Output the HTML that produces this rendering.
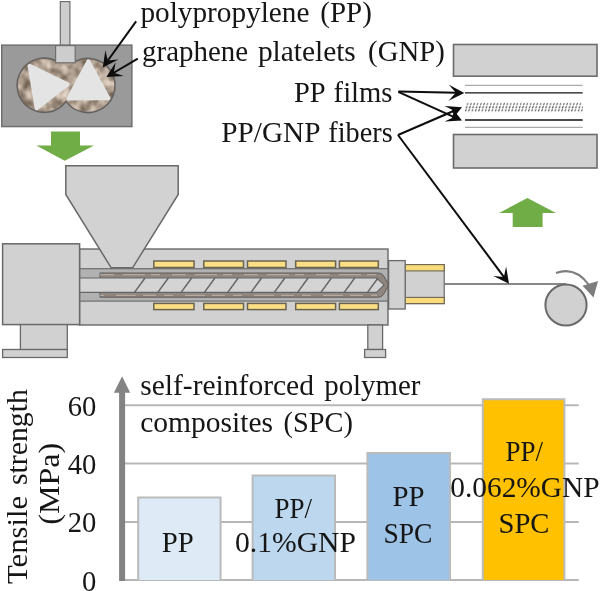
<!DOCTYPE html>
<html><head><meta charset="utf-8">
<style>
html,body{margin:0;padding:0;background:#fff;}
svg{display:block;}
text{font-family:"Liberation Serif",serif;fill:#141414;}
</style></head><body>
<svg width="600" height="591" viewBox="0 0 600 591">
<defs>
  <filter id="soft" x="-5%" y="-5%" width="110%" height="110%"><feGaussianBlur stdDeviation="0.38"/></filter>
  <filter id="softt" x="-5%" y="-5%" width="110%" height="110%"><feGaussianBlur stdDeviation="0.3"/></filter>
  <pattern id="dots" x="465" y="102.4" width="3.32" height="9.8" patternUnits="userSpaceOnUse">
    <g stroke="#3a3a3a" stroke-width="1.05" stroke-linecap="round">
    <line x1="2.2" y1="2.2" x2="3.0" y2="1.1"/>
    <line x1="1.1" y1="5.45" x2="1.9" y2="4.35"/>
    <line x1="0.3" y1="8.6" x2="1.1" y2="7.5"/>
    </g>
  </pattern>
  <clipPath id="chamber"><circle cx="44.1" cy="85.1" r="27.1"/><circle cx="87.8" cy="85.6" r="27.1"/><rect x="57" y="58" width="17.5" height="14"/></clipPath>
  <filter id="noise" x="0" y="0" width="100%" height="100%" color-interpolation-filters="sRGB">
    <feTurbulence type="fractalNoise" baseFrequency="0.1" numOctaves="2" seed="11" result="n"/>
    <feColorMatrix type="matrix" values="0.7 0 0 0 0.33  0.7 0 0 0 0.27  0.7 0 0 0 0.21  0 0 0 0 1"/>
  </filter>
  <linearGradient id="melt" x1="0" y1="0" x2="0" y2="1">
    <stop offset="0" stop-color="#6b625d"/><stop offset="0.45" stop-color="#b9aea6"/><stop offset="1" stop-color="#6b625d"/>
  </linearGradient>
</defs>
<rect width="600" height="591" fill="#fff"/>
<g filter="url(#soft)">
<!-- ===== mixer ===== -->
<rect x="60.3" y="1.6" width="9.6" height="44" fill="#cdcdcd" stroke="#6e6e6e" stroke-width="1.2"/>
<rect x="1.7" y="45.1" width="130.2" height="81.5" fill="#9a9a9a" stroke="#6c6c6c" stroke-width="1.4"/>
<g>
  <g clip-path="url(#chamber)">
    <rect x="10" y="50" width="115" height="70" filter="url(#noise)"/>
  </g>
  <path d="M58.5,62.2 A27.1,27.1 0 1 0 66.0,101.4 A27.1,27.1 0 1 0 73,62.9" fill="none" stroke="#666260" stroke-width="1.6"/>
</g>
<rect x="55.6" y="45.6" width="19.6" height="17.2" fill="#cdcdcd" stroke="#6e6e6e" stroke-width="1.2"/>
<path d="M29.6,65.9 L67.6,84.4 L36.6,108.2 Z" fill="#e4e4e4" stroke="#e4e4e4" stroke-width="4" stroke-linejoin="round"/>
<path d="M88.4,61.4 L108.4,98.2 L68.6,98.4 Z" fill="#e4e4e4" stroke="#e4e4e4" stroke-width="4" stroke-linejoin="round"/>
<!-- green arrow down -->
<path d="M51,131.5 H80 V145.5 H94 L64.7,160.8 L36.3,145.5 H51 Z" fill="#70ad47"/>
<!-- ===== extruder ===== -->
<rect x="79.5" y="249" width="308.5" height="76" fill="#d1d1d1" stroke="#696969" stroke-width="1.4"/>
<!-- liner -->
<rect x="79.5" y="268.7" width="308.5" height="32.4" fill="#b1b1b1" stroke="#6e6e6e" stroke-width="1.2"/>
<!-- melt ring -->
<path d="M100,273 H378.5 Q381.5,273 383.2,275.2 L387.6,282.6 Q388.5,284.9 387.6,287.2 L383.2,294.8 Q381.5,297.2 378.5,297.2 H100 Z" fill="#8f8680" stroke="#5f5a57" stroke-width="1"/>
<path d="M100,274.7 H377" stroke="#b3aaa3" stroke-width="1.2" stroke-dasharray="14 9 22 6 9 12" fill="none"/>
<path d="M100,295.3 H377" stroke="#b3aaa3" stroke-width="1.2" stroke-dasharray="9 12 20 7 13 8" stroke-dashoffset="5" fill="none"/>
<!-- screw core -->
<path d="M79.5,278 H376.5 L384,284.9 L376.5,292.4 H79.5 Z" fill="#d4d4d4" stroke="#666" stroke-width="1.1"/>
<g stroke="#646464" stroke-width="1.45" fill="none">
<path d="M134.5,292.4 L145.0,278"/>
<path d="M157.8,292.4 L168.3,278"/>
<path d="M181.1,292.4 L191.6,278"/>
<path d="M204.4,292.4 L214.9,278"/>
<path d="M227.7,292.4 L238.2,278"/>
<path d="M251.0,292.4 L261.5,278"/>
<path d="M274.3,292.4 L284.8,278"/>
<path d="M297.6,292.4 L308.1,278"/>
<path d="M320.9,292.4 L331.4,278"/>
<path d="M344.2,292.4 L354.7,278"/>
<path d="M367.5,292.4 L378.0,278"/>
</g>
<g fill="#fbdf85" stroke="#6b6450" stroke-width="1.5">
<rect x="153.8" y="261" width="40.2" height="6.5"/>
<rect x="153.8" y="303.4" width="40.2" height="6.2"/>
<rect x="203.8" y="261" width="39.7" height="6.5"/>
<rect x="203.8" y="303.4" width="39.7" height="6.2"/>
<rect x="247.5" y="261" width="38.5" height="6.5"/>
<rect x="247.5" y="303.4" width="38.5" height="6.2"/>
<rect x="295.7" y="261" width="39.9" height="6.5"/>
<rect x="295.7" y="303.4" width="39.9" height="6.2"/>
<rect x="339.4" y="261" width="38.9" height="6.5"/>
<rect x="339.4" y="303.4" width="38.9" height="6.2"/>
</g>
<!-- hopper -->
<path d="M65.8,165.7 H178.2 V194.5 L132.6,267.8 H111.2 L65.8,194.5 Z" fill="#d2d2d2" stroke="#696969" stroke-width="1.5"/>
<!-- left block -->
<rect x="2.6" y="243.8" width="77" height="80.8" fill="#d1d1d1" stroke="#696969" stroke-width="1.5"/>
<rect x="20.4" y="324.6" width="46.9" height="25" fill="#d1d1d1" stroke="#696969" stroke-width="1.3"/>
<rect x="2.6" y="349.5" width="64.7" height="8" fill="#d1d1d1" stroke="#696969" stroke-width="1.3"/>
<!-- right leg -->
<rect x="367.8" y="325" width="14.8" height="24.5" fill="#d1d1d1" stroke="#696969" stroke-width="1.3"/>
<rect x="364.6" y="349.5" width="21" height="8" fill="#d1d1d1" stroke="#696969" stroke-width="1.3"/>
<!-- adaptor + die -->
<rect x="405" y="264.6" width="39.2" height="39" fill="#d1d1d1" stroke="#696969" stroke-width="1.2"/>
<rect x="405" y="264.6" width="39.2" height="6.3" fill="#fadc7c" stroke="#6e6752" stroke-width="1.1"/>
<rect x="405" y="297.4" width="39.2" height="6.2" fill="#fadc7c" stroke="#6e6752" stroke-width="1.1"/>
<rect x="388.6" y="260.6" width="16.6" height="48.4" fill="#d1d1d1" stroke="#696969" stroke-width="1.3"/>
<!-- fiber line -->
<line x1="444.5" y1="284" x2="566" y2="284" stroke="#606060" stroke-width="1.5"/>
<!-- roll -->
<circle cx="566" cy="305" r="20.6" fill="#d1d1d1" stroke="#696969" stroke-width="2"/>
<path d="M556,273 Q575,266 589,285" fill="none" stroke="#7d7d7d" stroke-width="2"/>
<path d="M582.5,285.8 L598,281 L593.5,297.5 Z" fill="#7d7d7d"/>
<!-- green arrow up -->
<path d="M527.4,198 L556,213 H542.6 V227 H512.7 V213 H499 Z" fill="#70ad47"/>
<!-- plates -->
<rect x="453.5" y="44.5" width="143.5" height="31.7" fill="#d1d1d1" stroke="#6c6c6c" stroke-width="1.6"/>
<rect x="453.5" y="134.5" width="143.5" height="33.5" fill="#d1d1d1" stroke="#6c6c6c" stroke-width="1.6"/>
<line x1="465" y1="85.3" x2="582.7" y2="85.3" stroke="#aaaaaa" stroke-width="1.15"/>
<line x1="465" y1="92.9" x2="582.7" y2="92.9" stroke="#161616" stroke-width="1.3"/>
<rect x="465" y="102.4" width="117.7" height="9.8" fill="url(#dots)"/>
<line x1="465" y1="120" x2="582.7" y2="120" stroke="#161616" stroke-width="1.3"/>
<line x1="465" y1="127.3" x2="582.7" y2="127.3" stroke="#aaaaaa" stroke-width="1.15"/>
<!-- black arrows -->
<line x1="398.3" y1="91.6" x2="456.3" y2="92.8" stroke="#0a0a0a" stroke-width="2.0"/><path d="M464.3,93.0 L448.6,100.7 L455.8,92.8 L449.0,84.7 Z" fill="#0a0a0a"/>
<line x1="398.3" y1="91.8" x2="454.7" y2="117.3" stroke="#0a0a0a" stroke-width="2.0"/><path d="M462.0,120.6 L444.6,121.5 L454.3,117.1 L451.2,106.9 Z" fill="#0a0a0a"/>
<line x1="398.0" y1="135.0" x2="454.7" y2="110.5" stroke="#0a0a0a" stroke-width="2.0"/><path d="M462.0,107.3 L451.0,120.8 L454.2,110.7 L444.6,106.1 Z" fill="#0a0a0a"/>
<line x1="398.0" y1="135.0" x2="504.2" y2="277.3" stroke="#0a0a0a" stroke-width="2.0"/><path d="M509.0,283.7 L493.3,276.1 L503.9,276.9 L506.1,266.5 Z" fill="#0a0a0a"/>
<line x1="136.1" y1="21.3" x2="107.5" y2="61.0" stroke="#0a0a0a" stroke-width="2.0"/><path d="M102.8,67.5 L105.4,50.2 L107.8,60.6 L118.4,59.6 Z" fill="#0a0a0a"/>
<line x1="137.8" y1="58.6" x2="113.3" y2="73.0" stroke="#0a0a0a" stroke-width="2.0"/><path d="M106.4,77.0 L115.7,62.3 L113.7,72.7 L123.8,76.1 Z" fill="#0a0a0a"/>
<!-- ===== chart ===== -->
<g stroke="#b7b7b7" stroke-width="2">
  <line x1="122" y1="405.2" x2="578.8" y2="405.2"/>
  <line x1="122" y1="463.4" x2="578.8" y2="463.4"/>
  <line x1="122" y1="521.9" x2="578.8" y2="521.9"/>
  <line x1="122" y1="580" x2="578.8" y2="580"/>
</g>
<path d="M122.1,376.2 L130.2,392.7 H125.1 V581 H119.1 V392.7 H113.9 Z" fill="#838383"/>
<g stroke="#bbbbbb" stroke-width="2">
  <path d="M138.2,580 V497.5 H220.6 V580" fill="#deebf7"/>
  <path d="M252.6,580 V475.4 H335 V580" fill="#bdd7ee"/>
  <path d="M367.4,580 V453 H450 V580" fill="#9dc3e6"/>
  <path d="M482.8,580 V399.2 H564.4 V580" fill="#ffc103"/>
</g>
</g>
<!-- ===== text ===== -->
<g font-size="28.6" filter="url(#softt)">
<text x="140.4" y="21.8" textLength="169.1" lengthAdjust="spacingAndGlyphs">polypropylene</text>
<text x="320.3" y="21.8" textLength="51.5" lengthAdjust="spacingAndGlyphs">(PP)</text>
<text x="142.1" y="61.4" textLength="105.9" lengthAdjust="spacingAndGlyphs">graphene</text>
<text x="257.9" y="61.4" textLength="97.9" lengthAdjust="spacingAndGlyphs">platelets</text>
<text x="368.1" y="61.4" textLength="76.7" lengthAdjust="spacingAndGlyphs">(GNP)</text>
<text x="294.0" y="102.3" textLength="31.7" lengthAdjust="spacingAndGlyphs">PP</text>
<text x="333.6" y="102.3" textLength="58.9" lengthAdjust="spacingAndGlyphs">films</text>
<text x="221.3" y="142.3" textLength="99.2" lengthAdjust="spacingAndGlyphs">PP/GNP</text>
<text x="328.3" y="142.3" textLength="64.4" lengthAdjust="spacingAndGlyphs">fibers</text>
<text x="140.2" y="395" textLength="173.8" lengthAdjust="spacingAndGlyphs">self-reinforced</text>
<text x="324.2" y="395" textLength="96.3" lengthAdjust="spacingAndGlyphs">polymer</text>
<text x="140.2" y="432" textLength="132.8" lengthAdjust="spacingAndGlyphs">composites</text>
<text x="283.6" y="432" textLength="69.4" lengthAdjust="spacingAndGlyphs">(SPC)</text>
<text x="96.3" y="415.7" text-anchor="end">60</text>
<text x="96.3" y="473.6" text-anchor="end">40</text>
<text x="96.3" y="531.8" text-anchor="end">20</text>
<text x="96.3" y="590.6" text-anchor="end">0</text>
<text transform="translate(26.5,584) rotate(-90)" font-size="29.6" textLength="88" lengthAdjust="spacingAndGlyphs">Tensile</text>
<text transform="translate(26.5,485) rotate(-90)" font-size="29.6" textLength="95.8" lengthAdjust="spacingAndGlyphs">strength</text>
<text transform="translate(58.6,524.8) rotate(-90)" font-size="29.6" textLength="82" lengthAdjust="spacingAndGlyphs">(MPa)</text>
<text x="161.8" y="551.6" textLength="32" lengthAdjust="spacingAndGlyphs">PP</text>
<text x="274.6" y="518" textLength="37.5" lengthAdjust="spacingAndGlyphs">PP/</text>
<text x="235" y="552.2" textLength="121" lengthAdjust="spacingAndGlyphs">0.1%GNP</text>
<text x="392.6" y="506" textLength="32" lengthAdjust="spacingAndGlyphs">PP</text>
<text x="383.5" y="542.7" textLength="49" lengthAdjust="spacingAndGlyphs">SPC</text>
<text x="505.4" y="461.4" textLength="37.5" lengthAdjust="spacingAndGlyphs">PP/</text>
<text x="450.2" y="497" textLength="149.5" lengthAdjust="spacingAndGlyphs">0.062%GNP</text>
<text x="498.5" y="533" textLength="51" lengthAdjust="spacingAndGlyphs">SPC</text>
</g>
</svg>
</body></html>
